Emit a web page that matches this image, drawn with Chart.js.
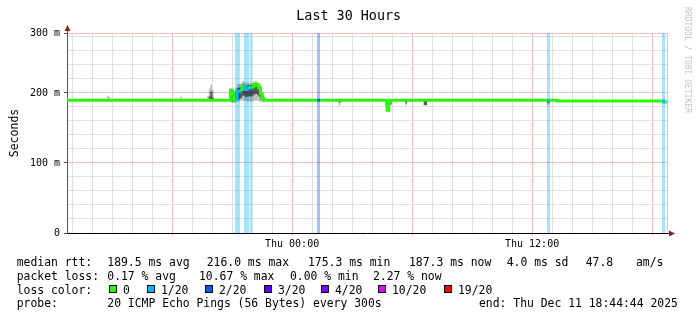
<!DOCTYPE html>
<html>
<head>
<meta charset="utf-8">
<script src="https://cdn.jsdelivr.net/npm/chart.js@4.4.1/dist/chart.umd.min.js"></script>
<style>
  html, body { margin: 0; padding: 0; background: #fff; }
  canvas { display: block; }
</style>
</head>
<body>
<canvas id="chart" width="697" height="321"></canvas>
<script>
// 5 min steps, hours relative to Thu 00:00 (only rows where something changes)
const hours = [
  -11.254, -9.250, -9.167, -9.083, -5.583, -5.500,
  -4.250, -4.167, -4.083, -4.000, -3.917,
  -3.083, -3.000, -2.917, -2.833, -2.750, -2.667, -2.583, -2.500, -2.417, -2.333,
  -2.250, -2.167, -2.083, -2.000, -1.917, -1.833, -1.750, -1.667, -1.583, -1.500, -1.417,
  1.250, 1.333, 1.417, 2.333, 2.417,
  4.667, 4.750, 4.833, 4.917, 5.000, 5.667, 5.750, 6.583, 6.667, 6.750,
  12.750, 12.833, 12.917, 13.250, 18.500, 18.583, 18.667, 18.746,
]
// median rtt in ms
const medianMs = [
  189.7, 189.7, 189.7, 189.7, 189.7, 189.7,
  189.7, 189.7, 189.7, 189.7, 189.7,
  204, 200, 190, 191, 203, 202, 205, 210, 209, 205,
  207, 208, 207, 209, 211, 213, 211, 207, 199, 192, 189.7,
  189.7, 189.7, 189.7, 189.7, 189.7,
  189.7, 175.3, 187, 189.7, 189.7, 189.7, 189.7, 189.7, 189.7, 189.7,
  189.7, 189.7, 189.7, 188.4, 188.4, 187.3, 187.3, 187.3,
]
// smoke: outer ping spread
const smokeLow = [
  189.7, 189.7, 189.7, 189.7, 189.7, 189.7,
  189.7, 188.5, 188, 188.5, 189.7,
  186, 186, 186, 187, 188, 188, 189, 189, 189, 188,
  188, 188, 188, 188, 189, 189, 189, 188, 187, 187, 189.7,
  189.7, 189.7, 189.7, 182, 189.7,
  181, 174, 182, 182.5, 189.7, 182, 189.7, 182, 182, 189.7,
  183, 185, 189.7, 188.4, 188.4, 187.3, 187.3, 187.3,
]
const smokeHigh = [
  189.7, 196, 194, 189.7, 195, 189.7,
  196, 206, 212, 204, 189.7,
  207, 206, 203, 208, 212, 213, 214, 217, 216, 214,
  215, 214, 214, 215, 217, 216, 215, 213, 208, 200, 189.7,
  189.7, 189.7, 189.7, 189.7, 189.7,
  189.7, 189.7, 189.7, 189.7, 189.7, 189.7, 189.7, 189.7, 189.7, 189.7,
  189.7, 189.7, 189.7, 188.4, 188.4, 187.3, 187.3, 187.3,
]
// smoke: inner (darker) ping spread
const coreLow = [
  189.7, 189.7, 189.7, 189.7, 189.7, 189.7,
  189.7, 189, 189, 189, 189.7,
  188, 188, 188, 189, 190, 191, 193, 196, 196, 194,
  195, 195, 195, 196, 198, 199, 197, 195, 190, 189, 189.7,
  189.7, 189.7, 189.7, 186, 189.7,
  182, 175, 183, 185, 189.7, 185, 189.7, 183, 183, 189.7,
  186, 188, 189.7, 188.4, 188.4, 187.3, 187.3, 187.3,
]
const coreHigh = [
  189.7, 191, 190.5, 189.7, 190, 189.7,
  190, 195, 202, 194, 189.7,
  204, 202, 198, 200, 207, 208, 209, 213, 212, 210,
  211, 211, 211, 212, 214, 214, 213, 210, 204, 196, 189.7,
  189.7, 189.7, 189.7, 189.7, 189.7,
  189.7, 186, 189.7, 189.7, 189.7, 189.7, 189.7, 189.7, 189.7, 189.7,
  189.7, 189.7, 189.7, 188.4, 188.4, 187.3, 187.3, 187.3,
]
// lost pings out of 20
const lostPings = [
  0, 0, 0, 0, 0, 0,
  0, 0, 0, 0, 0,
  0, 0, 0, 1, 1, 1, 0, 0, 1, 1,
  1, 0, 1, 0, 0, 0, 0, 0, 0, 0, 0,
  2, 2, 0, 0, 0,
  0, 0, 0, 0, 0, 0, 0, 0, 0, 0,
  1, 1, 0, 0, 1, 1, 0, 0,
]

const xMin = -11.254
const xMax = 18.746
const xTickHours = [0, 12]
const xTickLabels = ['Thu 00:00', 'Thu 12:00']
const yMax = 285.7
const yTickValues = [0, 100, 200, 285.7]
const yTickLabels = ['0', '100 m', '200 m', '300 m']

const lossThresholds = [0, 1, 2, 3, 4, 10, 19]
const lossLabels = ['0', '1/20', '2/20', '3/20', '4/20', '10/20', '19/20']
const lossColors = ['#26ff00', '#00b8ff', '#0059ff', '#5e00ff', '#7e00ff', '#dd00ff', '#ff0000']

const rttStats = ['189.5 ms avg', '216.0 ms max', '175.3 ms min', '187.3 ms now', '4.0 ms sd', '47.8', 'am/s']
const lossStats = ['0.17 % avg', '10.67 % max', '0.00 % min', '2.27 % now']
const probeText = '20 ICMP Echo Pings (56 Bytes) every 300s'
const endText = 'end: Thu Dec 11 18:44:44 2025'

const MONO = '"DejaVu Sans Mono", monospace'
const GRID = '#e0e0e0'
const MGRID = '#f5bcbc'

function lossColor(n) {
  let idx = 0
  lossThresholds.forEach((t, i) => { if (n >= t) idx = i })
  return lossColors[idx]
}

function hexToRgba(hex, alpha) {
  const r = parseInt(hex.slice(1, 3), 16)
  const g = parseInt(hex.slice(3, 5), 16)
  const b = parseInt(hex.slice(5, 7), 16)
  return `rgba(${r}, ${g}, ${b}, ${alpha})`
}

const pts = (arr) => hours.map((h, i) => ({ x: h, y: arr[i] }))

// each row holds its value until the next row
const band = (data, fill, color) => ({
  data: pts(data),
  stepped: 'before',
  borderWidth: 1,
  borderColor: 'transparent',
  backgroundColor: color,
  fill: fill,
})

const rrdDecor = {
  id: 'rrdDecor',
  beforeDatasetsDraw(chart) {
    // loss background bars
    const { ctx, chartArea: a, scales: { x } } = chart
    ctx.save()
    for (let i = 0; i < hours.length - 1; i++) {
      if (!lostPings[i]) continue
      const x0 = Math.round(x.getPixelForValue(hours[i]))
      const x1 = Math.round(x.getPixelForValue(hours[i + 1]))
      ctx.fillStyle = hexToRgba(lossColor(lostPings[i]), 0.37)
      ctx.fillRect(x0, a.top, x1 - x0, a.bottom - a.top)
    }
    ctx.restore()
  },
  afterDraw(chart) {
    const { ctx, chartArea: a } = chart
    ctx.save()

    // axis arrows
    ctx.strokeStyle = '#555'
    ctx.lineWidth = 1
    ctx.beginPath()
    ctx.moveTo(a.left + 0.5, a.top)
    ctx.lineTo(a.left + 0.5, a.top - 4)
    ctx.stroke()
    ctx.strokeStyle = '#000'
    ctx.beginPath()
    ctx.moveTo(a.right, a.bottom + 0.5)
    ctx.lineTo(a.right + 3, a.bottom + 0.5)
    ctx.stroke()
    ctx.fillStyle = '#8b2323'
    ctx.beginPath()
    ctx.moveTo(a.left + 0.5, a.top - 8)
    ctx.lineTo(a.left - 2.5, a.top - 2)
    ctx.lineTo(a.left + 3.5, a.top - 2)
    ctx.fill()
    ctx.beginPath()
    ctx.moveTo(a.right + 8, a.bottom + 0.5)
    ctx.lineTo(a.right + 2, a.bottom - 2.5)
    ctx.lineTo(a.right + 2, a.bottom + 3.5)
    ctx.fill()

    // title
    ctx.fillStyle = '#000'
    ctx.font = '13.4px ' + MONO
    ctx.textAlign = 'center'
    ctx.textBaseline = 'alphabetic'
    ctx.fillText('Last 30 Hours', 348.7, 19.5)

    // watermark
    ctx.save()
    ctx.translate(687.5, 7)
    ctx.rotate(Math.PI / 2)
    ctx.font = '8px ' + MONO
    ctx.fillStyle = '#c4c4c4'
    ctx.textAlign = 'left'
    ctx.textBaseline = 'middle'
    ctx.fillText('RRDTOOL / TOBI OETIKER', 0, 0)
    ctx.restore()

    // legend
    ctx.font = '11.4px ' + MONO
    ctx.textAlign = 'left'
    ctx.textBaseline = 'alphabetic'
    ctx.fillStyle = '#000'
    const rows = [265.7, 279.6, 293.5, 307.4]
    ctx.fillText('median rtt:', 16.7, rows[0])
    const rttX = [107.3, 206.7, 308, 409, 506.7, 585.7, 636]
    rttStats.forEach((t, i) => ctx.fillText(t, rttX[i], rows[0]))
    ctx.fillText('packet loss:', 16.7, rows[1])
    const lossX = [107.3, 199, 290, 373]
    lossStats.forEach((t, i) => ctx.fillText(t, lossX[i], rows[1]))
    ctx.fillText('loss color:', 16.7, rows[2])
    const boxX = [109.3, 147, 205.1, 263.6, 320.8, 378, 444]
    lossLabels.forEach((t, i) => {
      const bx = Math.round(boxX[i])
      ctx.fillStyle = lossColors[i]
      ctx.fillRect(bx, 286, 7, 7)
      ctx.strokeStyle = '#000'
      ctx.strokeRect(bx + 0.5, 285.5, 7, 7)
      ctx.fillStyle = '#000'
      ctx.fillText(t, bx + 14, rows[2])
    })
    ctx.fillText('probe:', 16.7, rows[3])
    ctx.fillText(probeText, 107.3, rows[3])
    ctx.fillText(endText, 479, rows[3])
    ctx.restore()
  },
}

new Chart(document.getElementById('chart'), {
  type: 'line',
  data: {
    datasets: [
      {
        label: 'median rtt',
        data: pts(medianMs),
        stepped: 'before',
        borderWidth: 3,
        borderColor: lossColors[0],
        fill: false,
        segment: {
          borderColor: (c) => lossColor(lostPings[c.p0DataIndex]),
        },
      },
      band(smokeLow, false, 'transparent'),
      band(smokeHigh, '-1', 'rgba(0, 0, 0, 0.25)'),
      band(coreLow, false, 'transparent'),
      band(coreHigh, '-1', 'rgba(0, 0, 0, 0.55)'),
    ],
  },
  options: {
    responsive: false,
    animation: false,
    events: [],
    layout: { padding: { left: 0, top: 33, right: 30, bottom: 0 } },
    elements: { point: { radius: 0 } },
    plugins: {
      legend: { display: false },
      tooltip: { enabled: false },
    },
    scales: {
      x: {
        type: 'linear',
        min: xMin,
        max: xMax,
        afterBuildTicks: (scale) => {
          const ticks = []
          for (let h = Math.ceil(xMin); h <= xMax; h++) ticks.push({ value: h })
          ticks.push({ value: xMax })
          scale.ticks = ticks
        },
        afterFit: (scale) => { scale.height = 88 },
        ticks: {
          autoSkip: false,
          maxRotation: 0,
          padding: 2,
          color: '#000',
          font: { family: MONO, size: 10 },
          callback: (v) => {
            const i = xTickHours.indexOf(v)
            return i >= 0 ? xTickLabels[i] : ''
          },
        },
        grid: {
          tickLength: 3,
          color: (c) => (c.tick && (c.tick.value % 6 === 0 || c.tick.value === xMax) ? MGRID : GRID),
          tickColor: (c) => (c.tick && (c.tick.value % 6 === 0 || c.tick.value === xMax) ? MGRID : 'transparent'),
        },
        border: { color: '#000', width: 1 },
      },
      y: {
        min: 0,
        max: yMax,
        afterBuildTicks: (scale) => {
          const ticks = []
          for (let v = 0; v < yMax; v += 20) ticks.push({ value: v })
          ticks.push({ value: yMax })
          scale.ticks = ticks
        },
        afterFit: (scale) => { scale.width = 67 },
        ticks: {
          autoSkip: false,
          padding: 4,
          color: '#000',
          font: { family: MONO, size: 10 },
          callback: (v) => {
            const i = yTickValues.indexOf(v)
            return i >= 0 ? yTickLabels[i] : ''
          },
        },
        grid: {
          tickLength: 3,
          color: (c) => (c.tick && (c.tick.value % 100 === 0 || c.tick.value === yMax) ? MGRID : GRID),
          tickColor: (c) => (c.tick && (c.tick.value % 100 === 0 || c.tick.value === yMax) ? '#555' : 'transparent'),
        },
        border: { color: '#555', width: 1 },
        title: {
          display: true,
          text: 'Seconds',
          color: '#000',
          font: { family: MONO, size: 11.5 },
          padding: { top: 8, bottom: 0 },
        },
      },
    },
  },
  plugins: [rrdDecor],
})
</script>
</body>
</html>
